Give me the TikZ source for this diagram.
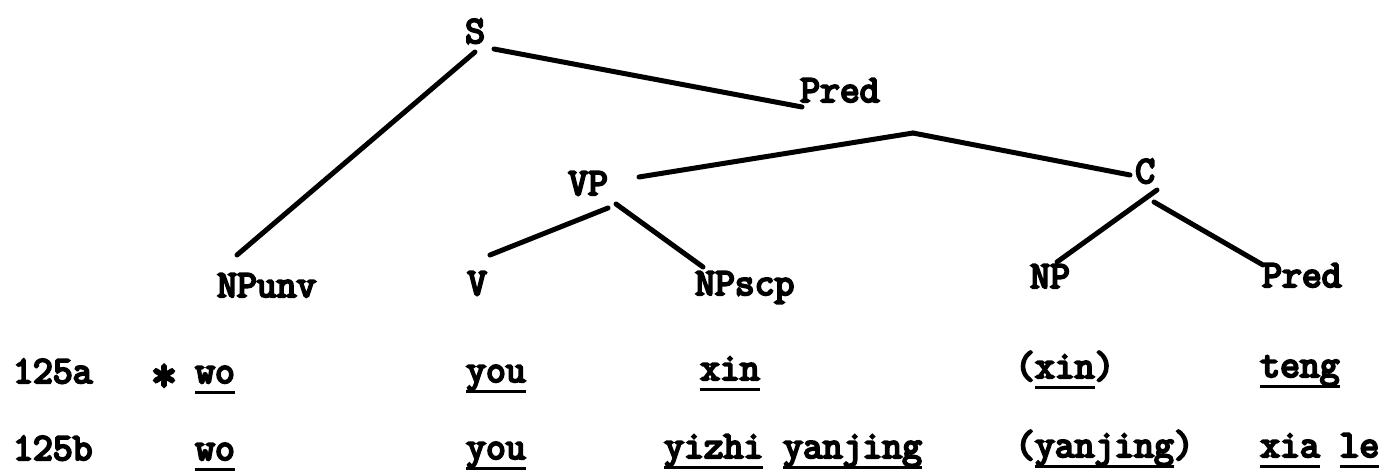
\documentclass[tikz,border=0pt]{standalone}
\usepackage{fontspec}
\setmainfont{Latin Modern Mono}[FakeBold=5.5]
\usepackage{tikz}
\usetikzlibrary{positioning}
\newcommand{\ulword}[1]{\setbox0=\hbox{#1}\rlap{\rule[-11pt]{\wd0}{3.5pt}}\box0\relax}
\tikzset{
  lab/.style={anchor=base west,inner sep=0pt,font=\fontsize{38.5}{44}\selectfont},
  branch/.style={line width=5pt,line cap=round,color=black},
}
\begin{document}
\begin{tikzpicture}[x=1pt,y=-1pt]
    \useasboundingbox (0,0) rectangle (1396,476);
    % Tree labels
    \node[lab] (s) at (465,43) {S};
    \node[lab] (pred) at (800,102) {Pred};
    \coordinate (join) at (913,133);
    \node[lab] (vp) at (568,195) {VP};
    \node[lab] (c) at (1135,183) {C};
    \node[lab] (npunv) at (217,297) {NPunv};
    \node[lab] (v) at (467,295) {V};
    \node[lab] (npscp) at (695,295) {NPscp};
    \node[lab] (np) at (1030,288) {NP};
    \node[lab] (pred2) at (1262,287) {Pred};
    % Branches
    \draw[branch] ([shift={(10,9)}]s.base west) -- ([shift={(20,-42)}]npunv.base west);
    \draw[branch] ([shift={(29,6)}]s.base west) -- ([shift={(2,5)}]pred.base west);
    \draw[branch] (join) -- ([shift={(71,-18)}]vp.base west);
    \draw[branch] (join) -- ([shift={(-5,-8)}]c.base west);
    \draw[branch] ([shift={(40,13)}]vp.base west) -- ([shift={(23,-40)}]v.base west);
    \draw[branch] ([shift={(48,9)}]vp.base west) -- ([shift={(8,-28)}]npscp.base west);
    \draw[branch] ([shift={(22,7)}]c.base west) -- ([shift={(27,-26)}]np.base west);
    \draw[branch] ([shift={(19,19)}]c.base west) -- ([shift={(1,-22)}]pred2.base west);
    % Example 125a
    \node[lab] (na) at (13,383) {125a};
    \node[lab,font=\fontsize{50}{56}\selectfont] (stara) at (151,391) {*};
    \node[lab] (woa) at (195,383) {\ulword{wo}};
    \node[lab] (youa) at (466,382) {\ulword{you}};
    \node[lab] (xina) at (700,380) {\ulword{xin}};
    \node[lab] (xinpa) at (1015,378) {(\ulword{xin})};
    \node[lab] (tenga) at (1260,377) {\ulword{teng}};
    % Example 125b
    \node[lab] (nb) at (13,460) {125b};
    \node[lab] (wob) at (195,460) {\ulword{wo}};
    \node[lab] (youb) at (466,459) {\ulword{you}};
    \node[lab] (yanb) at (664,458) {\ulword{yizhi} \ulword{yanjing}};
    \node[lab] (yanpb) at (1015,457) {(\ulword{yanjing})};
    \node[lab] (xiab) at (1260,457) {\ulword{xia} \ulword{le}};
  \end{tikzpicture}
\end{document}
